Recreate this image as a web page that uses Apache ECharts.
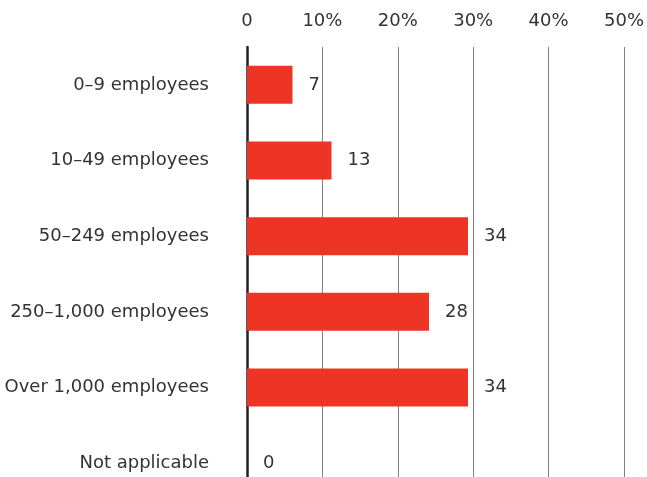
<!DOCTYPE html>
<html>
<head>
<meta charset="utf-8">
<script src="https://cdn.jsdelivr.net/npm/echarts@6/dist/echarts.min.js"></script>
<style>
  html, body { margin: 0; padding: 0; background: #fff; overflow: hidden; }
  /* the last row runs past the bottom edge of the window */
  #chart { width: 647px; height: 501px; }
</style>
</head>
<body>
<div id="chart"></div>
<script>
// Company size groups and the number of respondents in each
const categories = [
  '0–9 employees',
  '10–49 employees',
  '50–249 employees',
  '250–1,000 employees',
  'Over 1,000 employees',
  'Not applicable'
];
const counts = [7, 13, 34, 28, 34, 0];
const tickValues = [0, 10, 20, 30, 40, 50];

// Bars show each group's share of all respondents; labels show the count
const total = counts.reduce((a, b) => a + b, 0);
const shares = counts.map(c => c / total * 100);

const font = '"DejaVu Sans", sans-serif';
const chart = echarts.init(document.getElementById('chart'), null, { renderer: 'canvas' });

chart.setOption({
  animation: false,
  grid: { left: 247, right: 21, top: 47, bottom: 0, containLabel: false },
  xAxis: {
    type: 'value',
    position: 'top',
    min: tickValues[0],
    max: tickValues[tickValues.length - 1],
    interval: 10,
    axisLine: { show: false },
    axisTick: { show: false },
    axisLabel: {
      margin: 17,
      color: '#333',
      fontFamily: font,
      fontSize: 18,
      formatter: v => (v === 0 ? '0' : v + '%')
    },
    splitLine: { show: true, lineStyle: { color: '#808080', width: 1 } }
  },
  yAxis: {
    type: 'category',
    inverse: true,
    data: categories,
    axisLine: { show: true, lineStyle: { color: '#222', width: 2.5 } },
    axisTick: { show: false },
    axisLabel: {
      margin: 38,
      color: '#333',
      fontFamily: font,
      fontSize: 18
    }
  },
  series: [{
    type: 'bar',
    barWidth: 38,
    data: shares.map((s, i) => ({ value: s, count: counts[i] })),
    itemStyle: { color: '#ee3425' },
    label: {
      show: true,
      position: 'right',
      distance: 16,
      color: '#333',
      fontFamily: font,
      fontSize: 18,
      formatter: p => String(p.data.count)
    }
  }]
});
</script>
</body>
</html>
